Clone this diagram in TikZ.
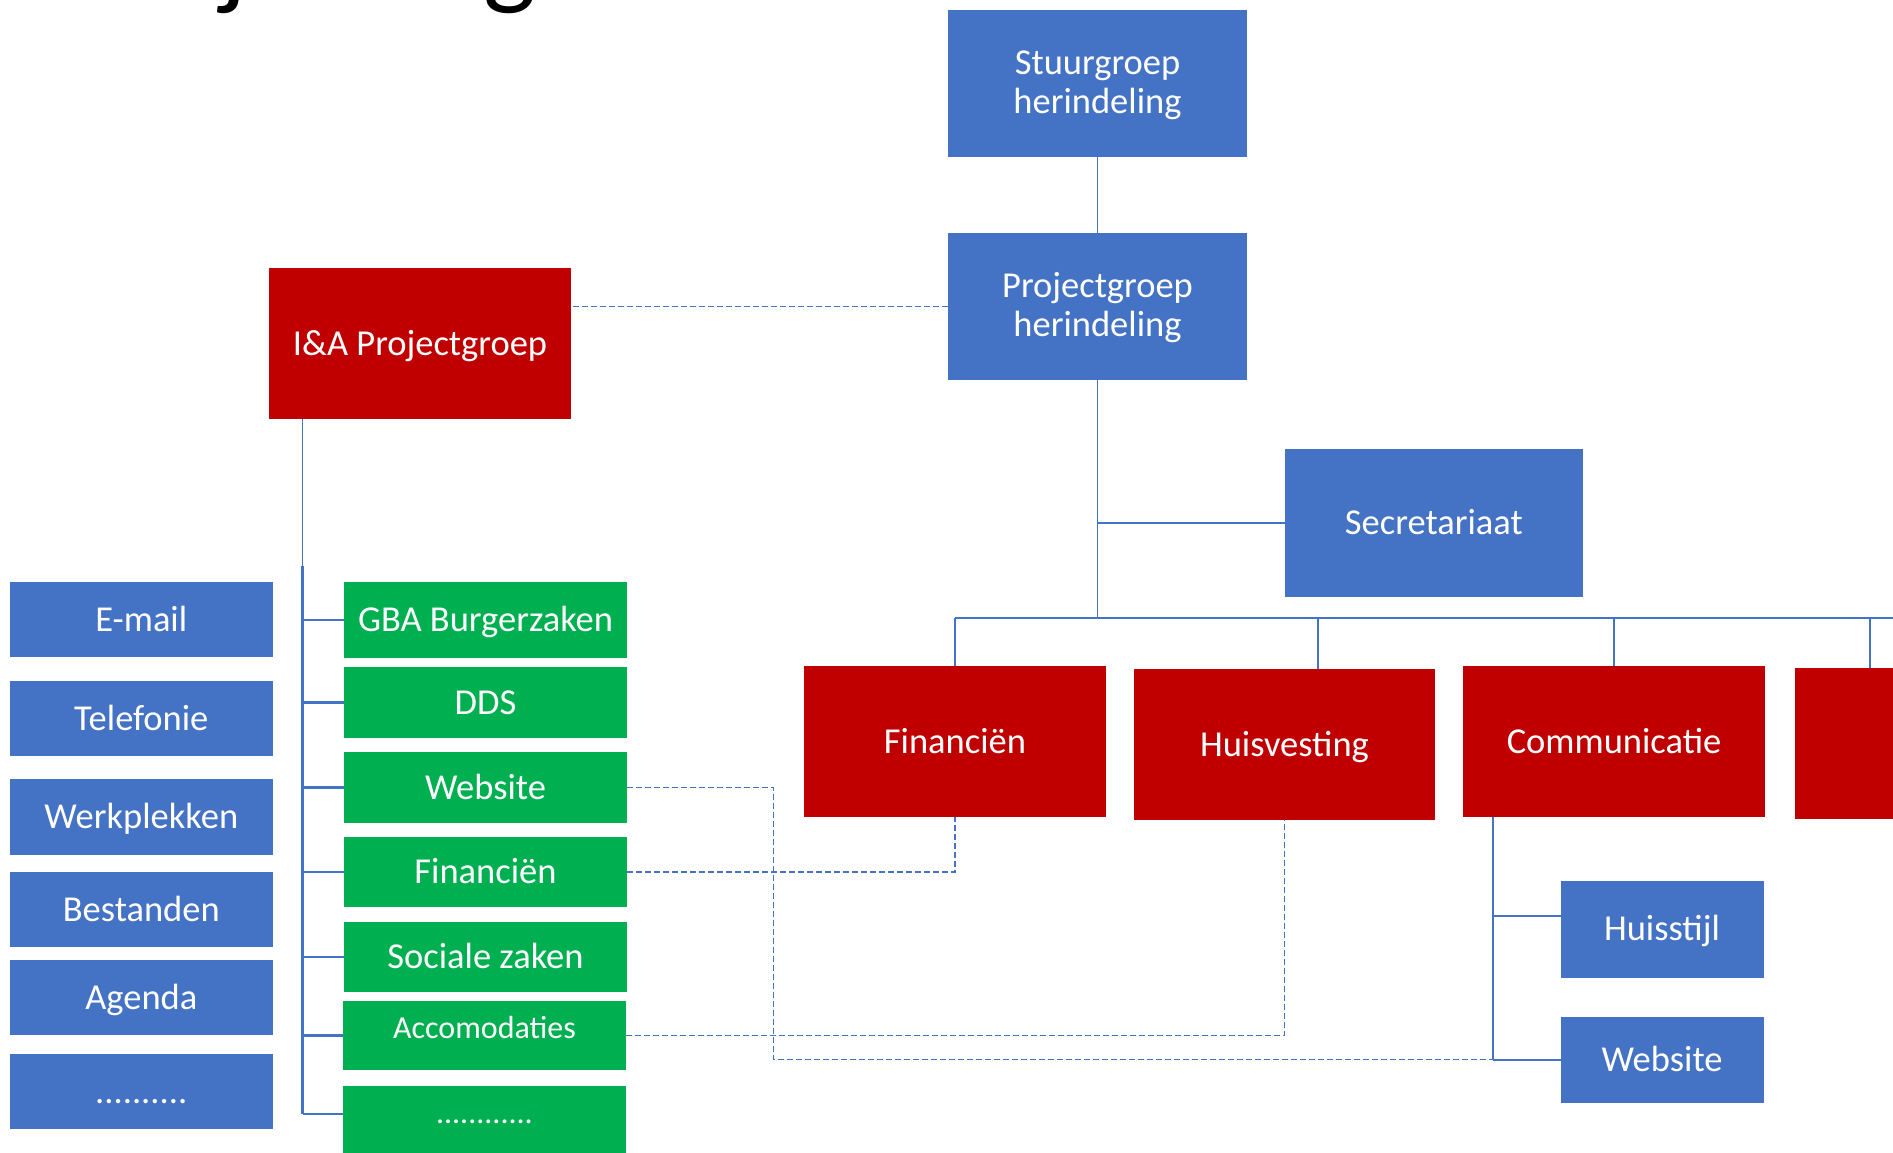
\documentclass[tikz,border=0pt]{standalone}
\usepackage{fontspec}
\setmainfont{Carlito}
\definecolor{cBlue}{HTML}{4472C4}
\definecolor{cRed}{HTML}{C00000}
\definecolor{cGreen}{HTML}{00B050}
\definecolor{cLine}{HTML}{4472C4}
\tikzset{
  basebox/.style={inner sep=0pt, outer sep=0pt, text=white, align=center, font=\fontsize{36.5}{39}\selectfont},
  bbox/.style={basebox, fill=cBlue},
  rbox/.style={basebox, fill=cRed},
  gbox/.style={basebox, fill=cGreen},
  capc/.style={text height=23pt, text depth=0pt},
  twol/.style={text height=64pt, text depth=5pt},
  smalltxt/.style={font=\fontsize{32}{36}\selectfont, text height=20.2pt, text depth=15pt},
  sz/.style 2 args={minimum width=#1pt, minimum height=#2pt},
  lthin/.style={draw=cLine, line width=1.3pt},
  lbus/.style={draw=cLine, line width=1.6pt},
  lthick/.style={draw=cLine, line width=2.5pt},
  lmid/.style={draw=cLine, line width=2.1pt},
  dashln/.style={draw=cLine, line width=1.3pt, dash pattern=on 6pt off 3pt},
}
\begin{document}
\begin{tikzpicture}[x=1pt, y=-1pt]
\useasboundingbox (0,0) rectangle (1893,1152);
\begin{scope}
\clip (0,0) rectangle (1893,1152);

% cut-off title
\node[anchor=base west, inner sep=0pt, font=\fontsize{112}{120}\selectfont] (title) at (66,-6) {Projectorganisatie};

% top hierarchy
\node[bbox, twol, sz={299}{147}] (stuur) at (1097.5,83.5) {Stuurgroep\\herindeling};
\node[bbox, twol, sz={299}{147}] (proj) at (1097.5,306.5) {Projectgroep\\herindeling};
\node[rbox, capc, sz={302}{151}] (ia) at (420,343.5) {I\&A Projectgroep};
\node[bbox, capc, sz={298}{148}] (secr) at (1433.8,523) {Secretariaat};

% red work groups
\node[rbox, capc, sz={302}{151}] (rfin) at (955,741.5) {Financiën};
\node[rbox, capc, sz={301}{151}] (rhuis) at (1284.5,744.5) {Huisvesting};
\node[rbox, capc, sz={302}{151}] (rcomm) at (1614,741.5) {Communicatie};
\node[rbox, sz={302}{151}] (rfour) at (1946,743.5) {};

% communicatie children
\node[bbox, capc, sz={203}{97}] (huis) at (1662,929.3) {Huisstijl};
\node[bbox, capc, sz={203}{86}] (bweb) at (1662,1059.7) {Website};

% left blue column
\node[bbox, capc, sz={263}{75.5}] (email) at (141.3,619.5) {E-mail};
\node[bbox, capc, sz={263}{75.5}] (tel) at (141.3,718.5) {Telefonie};
\node[bbox, capc, sz={263}{75.5}] (werk) at (141.3,816.8) {Werkplekken};
\node[bbox, capc, sz={263}{75.5}] (best) at (141.3,909.7) {Bestanden};
\node[bbox, capc, sz={263}{75.5}] (agenda) at (141.3,997.6) {Agenda};
\node[bbox, capc, sz={263}{75.5}] (bdots) at (141.3,1091.6) {..........};

% green column
\node[gbox, capc, sz={283}{76}] (gba) at (485.5,620) {GBA Burgerzaken};
\node[gbox, capc, sz={283}{71}] (dds) at (485.5,702.5) {DDS};
\node[gbox, capc, sz={283}{71}] (gweb) at (485.5,787.5) {Website};
\node[gbox, capc, sz={283}{70}] (gfin) at (485.5,872) {Financiën};
\node[gbox, capc, sz={283}{70}] (gsoc) at (485.5,957) {Sociale zaken};
\node[gbox, smalltxt, sz={283}{69}] (gacc) at (484.5,1035.5) {Accomodaties};
\node[gbox, smalltxt, sz={283}{69}] (gdots) at (484.5,1120.5) {............};

% coordinates
\coordinate (bus) at (955,618);
\coordinate (busR) at (1900,618);
\coordinate (hd) at (1318,618);
\coordinate (fd) at (1870,618);
\coordinate (tt) at (302.7,566);
\coordinate (tb) at (302.7,1114);
\coordinate (cx) at (1493.3,916);
\coordinate (cb) at (1493.3,1059.7);
\coordinate (dx) at (773.5,0);

% solid connectors
\draw[lthin] (stuur.south) -- (proj.north);
\draw[lthin] (proj.south) -- (proj.south |- bus);
\draw[lthin] (secr.west) -- (secr.west -| proj.south);
\draw[lbus] (bus) -- (busR);
\draw[lthin] (bus) -- (rfin.north);
\draw[lthin] (hd) -- (hd |- rhuis.north);
\draw[lthin] (rcomm.north) -- (rcomm.north |- bus);
\draw[lthin] (fd) -- (fd |- rfour.north);

\draw[lthin] (ia.south -| tt) -- (tt);
\draw[lthick] (tt) -- (tb);
\foreach \n in {gba,dds,gweb,gfin,gsoc,gacc}
  \draw[lthick] (\n.west -| tt) -- (\n.west);
\draw[lthick] (tb) -- (tb -| gdots.west);

\draw[lmid] (rcomm.south -| cx) -- (cb);
\draw[lmid] (cx) -- (cx -| huis.west);
\draw[lmid] (cb) -- (bweb.west);

% dashed connectors
\draw[dashln] (proj.west) -- (proj.west -| ia.east);
\draw[dashln] (gweb.east) -- (gweb.east -| dx) -- (dx |- bweb.west) -- (cb);
\draw[dashln] (gfin.east) -| (rfin.south);
\draw[dashln] (gacc.east) -| (rhuis.south);
\end{scope}
\end{tikzpicture}
\end{document}
